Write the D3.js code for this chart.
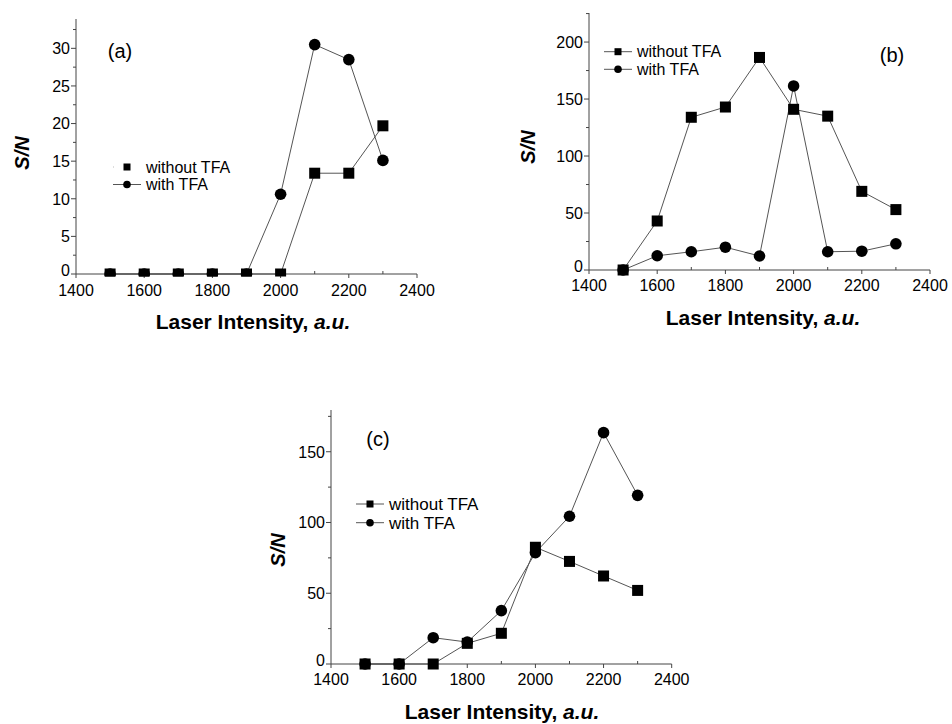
<!DOCTYPE html>
<html>
<head>
<meta charset="utf-8">
<script src="https://cdn.jsdelivr.net/npm/d3@7"></script>
<style>
  body { margin: 0; background: #fff; }
  text { font-family: "Liberation Sans", Arial, sans-serif; fill: #000; }
</style>
</head>
<body>
<div id="chart"></div>
<script>
// DATA
const intensity = [1500, 1600, 1700, 1800, 1900, 2000, 2100, 2200, 2300];
const xTicks = [1400, 1600, 1800, 2000, 2200, 2400];
const seriesNames = ["without TFA", "with TFA"];

const aWithout = [0, 0, 0, 0, 0, 0, 13.4, 13.4, 19.7];
const aWith    = [0, 0, 0, 0, 0, 10.6, 30.5, 28.5, 15.1];
const aTicks   = [0, 5, 10, 15, 20, 25, 30];

const bWithout = [0, 43, 134, 143, 186.5, 141, 135, 69, 53];
const bWith    = [0, 12.5, 16, 20, 12.3, 161.5, 16, 16.5, 23];
const bTicks   = [0, 50, 100, 150, 200];

const cWithout = [0, 0, 0, 14.6, 21.7, 82.5, 72.5, 62.2, 52];
const cWith    = [0, 0, 18.6, 15.5, 37.7, 78.7, 104.4, 163.5, 119.2];
const cTicks   = [0, 50, 100, 150];

const svg = d3.select("#chart")
  .append("svg")
    .attr("width", 952)
    .attr("height", 724);

// one panel = one small origin-style plot
function panel(cfg) {
  const g = svg.append("g");

  const xs = d3.scaleLinear()
    .domain([1400, 2400])
    .range([cfg.left, cfg.right]);

  const ys = d3.scaleLinear()
    .domain([0, cfg.ymax])
    .range([cfg.bottom, cfg.top]);

  // AXES
  g.append("line")
    .attr("x1", xs(1400)).attr("x2", xs(2400))
    .attr("y1", ys(0)).attr("y2", ys(0))
    .attr("stroke", "#444");
  g.append("line")
    .attr("x1", xs(1400)).attr("x2", xs(1400))
    .attr("y1", ys(0)).attr("y2", ys(cfg.ymax))
    .attr("stroke", "#444");

  // x ticks: majors down, minors up
  g.selectAll(".xmaj")
    .data(xTicks)
    .enter().append("line")
    .attr("x1", d => xs(d)).attr("x2", d => xs(d))
    .attr("y1", ys(0)).attr("y2", ys(0) + 4)
    .attr("stroke", "#444");
  g.selectAll(".xmin")
    .data(d3.range(1500, 2400, 200))
    .enter().append("line")
    .attr("x1", d => xs(d)).attr("x2", d => xs(d))
    .attr("y1", ys(0)).attr("y2", ys(0) - 3)
    .attr("stroke", "#444");
  g.selectAll(".xlab")
    .data(xTicks)
    .enter().append("text")
    .attr("x", d => xs(d))
    .attr("y", ys(0) + cfg.tickGap)
    .attr("text-anchor", "middle")
    .style("font-size", "16px")
    .text(d => d);

  // y ticks
  const step = cfg.yTicks[1] - cfg.yTicks[0];
  g.selectAll(".ymaj")
    .data(cfg.yTicks)
    .enter().append("line")
    .attr("x1", xs(1400) - 5).attr("x2", xs(1400))
    .attr("y1", d => ys(d)).attr("y2", d => ys(d))
    .attr("stroke", "#444");
  g.selectAll(".ymin")
    .data(d3.range(step / 2, cfg.ymax, step))
    .enter().append("line")
    .attr("x1", xs(1400) - 3).attr("x2", xs(1400))
    .attr("y1", d => ys(d)).attr("y2", d => ys(d))
    .attr("stroke", "#444");
  g.selectAll(".ylab")
    .data(cfg.yTicks)
    .enter().append("text")
    .attr("x", xs(1400) - 6)
    .attr("y", d => ys(d) - (d === 0 ? 4 : 0)) // lift the 0 off the x labels
    .attr("dy", "0.36em")
    .attr("text-anchor", "end")
    .style("font-size", "16px")
    .text(d => d);

  // axis titles
  const xt = g.append("text")
    .attr("x", cfg.xTitleX)
    .attr("y", ys(0) + 55)
    .attr("text-anchor", "middle")
    .style("font-size", "21px")
    .style("font-weight", "bold");
  xt.append("tspan").text("Laser Intensity, ");
  xt.append("tspan").style("font-style", "italic").text("a.u.");

  g.append("text")
    .attr("transform", `translate(${cfg.yTitle[0]},${cfg.yTitle[1]}) rotate(-90)`)
    .attr("text-anchor", "middle")
    .attr("dominant-baseline", "central")
    .style("font-size", "20px")
    .style("font-weight", "bold")
    .style("font-style", "italic")
    .text("S/N");

  // panel letter
  g.append("text")
    .attr("x", cfg.letter[0])
    .attr("y", cfg.letter[1])
    .attr("text-anchor", "middle")
    .style("font-size", "20px")
    .text(cfg.name);

  // LINES + MARKERS
  if (cfg.clip) {
    svg.append("clipPath").attr("id", "clip" + cfg.clip)
      .append("rect")
      .attr("x", 0).attr("y", 0)
      .attr("width", 952).attr("height", ys(0) + 2.5);
  }
  const plot = g.append("g")
    .attr("clip-path", cfg.clip ? `url(#clip${cfg.clip})` : null);

  const line = d3.line()
    .x((d, i) => xs(intensity[i]))
    .y(d => ys(d));

  [cfg.without, cfg.with].forEach(vals => {
    plot.append("path")
      .attr("d", line(vals))
      .attr("fill", "none")
      .attr("stroke", "#555")
      .attr("stroke-width", 1);
  });

  plot.selectAll(".sq")
    .data(cfg.without)
    .enter().append("rect")
    .attr("x", (d, i) => xs(intensity[i]) - 5.5)
    .attr("y", d => ys(d) - 5.5)
    .attr("width", 11)
    .attr("height", 11)
    .attr("fill", "#000");

  plot.selectAll(".ci")
    .data(cfg.with)
    .enter().append("circle")
    .attr("cx", (d, i) => xs(intensity[i]))
    .attr("cy", d => ys(d))
    .attr("r", 5.8)
    .attr("fill", "#000");

  // LEGEND
  const lg = g.append("g");
  seriesNames.forEach((name, k) => {
    const ly = cfg.legend[1] + k * cfg.legendStep;
    const x0 = cfg.legend[0];
    const solid = !(cfg.faintFirst && k === 0);
    lg.append("line")
      .attr("x1", x0).attr("x2", x0 + 28)
      .attr("y1", ly).attr("y2", ly)
      .attr("stroke", solid ? "#555" : "#bbb")
      .attr("stroke-dasharray", solid ? null : "1,27");
    if (k === 0) {
      lg.append("rect")
        .attr("x", x0 + 14 - 3.5).attr("y", ly - 3.5)
        .attr("width", 7).attr("height", 7)
        .attr("fill", "#000");
    } else {
      lg.append("circle")
        .attr("cx", x0 + 14).attr("cy", ly)
        .attr("r", 3.8)
        .attr("fill", "#000");
    }
    lg.append("text")
      .attr("x", x0 + 33)
      .attr("y", ly)
      .attr("dy", "0.36em")
      .style("font-size", cfg.legendFont + "px")
      .text(name);
  });
}

panel({
  name: "(a)", left: 76, right: 417, bottom: 274, top: 19, ymax: 33.9,
  yTicks: aTicks, without: aWithout, with: aWith, tickGap: 22,
  xTitleX: 253, yTitle: [22, 153], letter: [120, 58],
  legend: [113, 167], legendStep: 17.5, legendFont: 16, faintFirst: true, clip: "a"
});

panel({
  name: "(b)", left: 589, right: 930, bottom: 270, top: 13, ymax: 225.5,
  yTicks: bTicks, without: bWithout, with: bWith, tickGap: 21,
  xTitleX: 763, yTitle: [528, 147], letter: [892, 62],
  legend: [604, 51.7], legendStep: 17.6, legendFont: 16
});

panel({
  name: "(c)", left: 331, right: 671.7, bottom: 664, top: 410, ymax: 179.5,
  yTicks: cTicks, without: cWithout, with: cWith, tickGap: 21,
  xTitleX: 502, yTitle: [278, 550], letter: [378, 446],
  legend: [356, 504], legendStep: 18.7, legendFont: 17
});
</script>
</body>
</html>
